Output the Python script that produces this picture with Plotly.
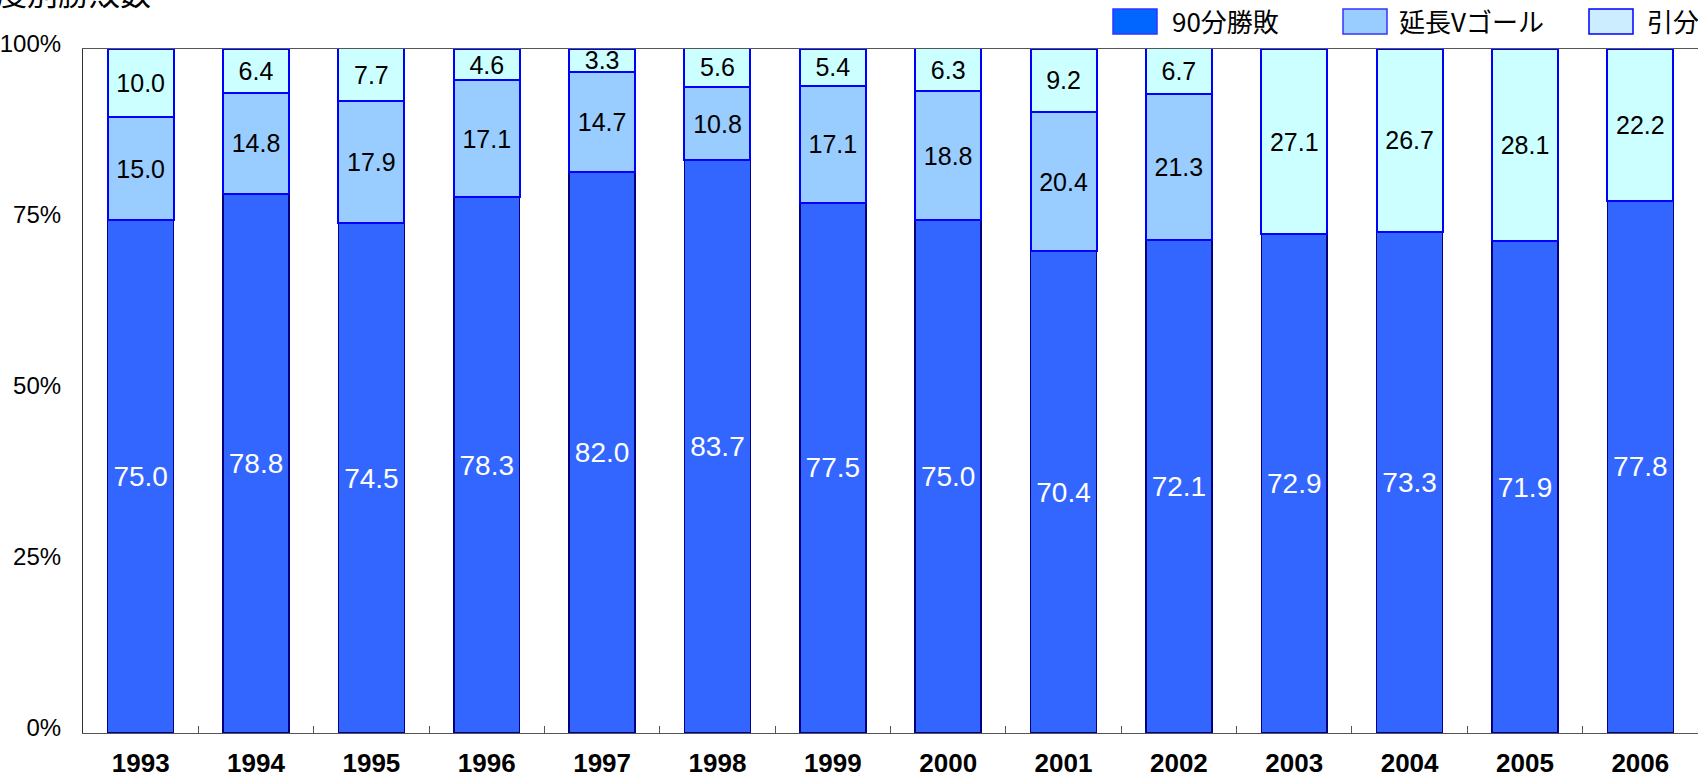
import plotly.graph_objects as go

# seasons and share of results (%)
years = ["1993", "1994", "1995", "1996", "1997", "1998", "1999",
         "2000", "2001", "2002", "2003", "2004", "2005", "2006"]
win90 = [75.0, 78.8, 74.5, 78.3, 82.0, 83.7, 77.5,
         75.0, 70.4, 72.1, 72.9, 73.3, 71.9, 77.8]
vgoal = [15.0, 14.8, 17.9, 17.1, 14.7, 10.8, 17.1,
         18.8, 20.4, 21.3, None, None, None, None]
draw = [10.0, 6.4, 7.7, 4.6, 3.3, 5.6, 5.4,
        6.3, 9.2, 6.7, 27.1, 26.7, 28.1, 22.2]

series_names = ["90分勝敗", "延長Vゴール", "引分"]
y_ticks = [0, 25, 50, 75, 100]
y_tick_text = ["0%", "25%", "50%", "75%", "100%"]

W, H = 1698, 777
ML, MR, MT, MB = 83, 0, 49, 44
PW, PH = W - ML - MR, H - MT - MB

SANS = "Liberation Sans, Arial"
CJK = "Noto Sans CJK JP, Noto Sans CJK SC, sans-serif"


def px_x(px):
    return (px - ML) / PW


def px_y(py):
    return 1 + (MT - py) / PH


fig = go.Figure()

fig.add_trace(go.Bar(
    x=years, y=win90, name=series_names[0],
    marker=dict(color="#3366FF", line=dict(color="#000080", width=1.5)),
    texttemplate="%{y:.1f}", textposition="inside", insidetextanchor="middle",
    textangle=0, constraintext="none",
    textfont=dict(family=SANS, size=28, color="white"),
))
fig.add_trace(go.Bar(
    x=years, y=vgoal, name=series_names[1],
    marker=dict(color="#99CCFF", line=dict(color="#0000FF", width=2)),
    texttemplate="%{y:.1f}", textposition="inside", insidetextanchor="middle",
    textangle=0, constraintext="none",
    textfont=dict(family=SANS, size=25, color="black"),
))
fig.add_trace(go.Bar(
    x=years, y=draw, name=series_names[2],
    marker=dict(color="#CCFFFF", line=dict(color="#0000FF", width=2)),
    texttemplate="%{y:.1f}", textposition="inside", insidetextanchor="middle",
    textangle=0, constraintext="none",
    textfont=dict(family=SANS, size=25, color="black"),
))

# hand-made legend to get the large swatches
legend_items = [
    (series_names[0], "#0066FF", "#3333FF", 1113, 1170),
    (series_names[1], "#99CCFF", "#3333FF", 1343, 1397),
    (series_names[2], "#CCECFF", "#0000FF", 1589, 1645),
]
shapes = []
annotations = []
for name, fill, edge, sx, tx in legend_items:
    shapes.append(dict(
        type="rect", xref="paper", yref="paper",
        x0=px_x(sx), x1=px_x(sx + 44), y0=px_y(34), y1=px_y(9),
        fillcolor=fill, line=dict(color=edge, width=1.5),
    ))
    annotations.append(dict(
        text=name, xref="paper", yref="paper", x=px_x(tx), y=px_y(21),
        xanchor="left", yanchor="middle", showarrow=False,
        font=dict(family=CJK, size=26, color="black"),
    ))

# title, partly cut off at the top edge like the source image
annotations.append(dict(
    text="年度別勝敗数", xref="paper", yref="paper",
    x=px_x(-37), y=px_y(16), xanchor="left", yanchor="bottom",
    showarrow=False, font=dict(family=CJK, size=31, color="black"),
))

fig.update_layout(
    width=W, height=H,
    margin=dict(l=ML, r=MR, t=MT, b=MB, pad=0),
    barmode="stack", bargap=0.428,
    plot_bgcolor="white", paper_bgcolor="white",
    showlegend=False,
    shapes=shapes, annotations=annotations,
    xaxis=dict(
        type="category", showgrid=False, showline=True, mirror=True,
        linecolor="#555555", linewidth=1.2, automargin=False,
        ticks="inside", tickson="boundaries", ticklen=7, tickcolor="#555555",
        tickfont=dict(family=SANS, size=26, color="black", weight="bold"),
        ticklabelstandoff=7,
    ),
    yaxis=dict(
        range=[0, 100], tickvals=y_ticks, ticktext=y_tick_text,
        showgrid=False, showline=True, linecolor="#333333", linewidth=1.2,
        ticks="", zeroline=False, automargin=False,
        tickfont=dict(family=SANS, size=24, color="black"),
        ticklabelstandoff=16, ticklabelshift=-5,
    ),
)

fig.write_html(
    "out.html",
    config={"displayModeBar": False},
    post_script="document.body.style.margin='0px';",
)
